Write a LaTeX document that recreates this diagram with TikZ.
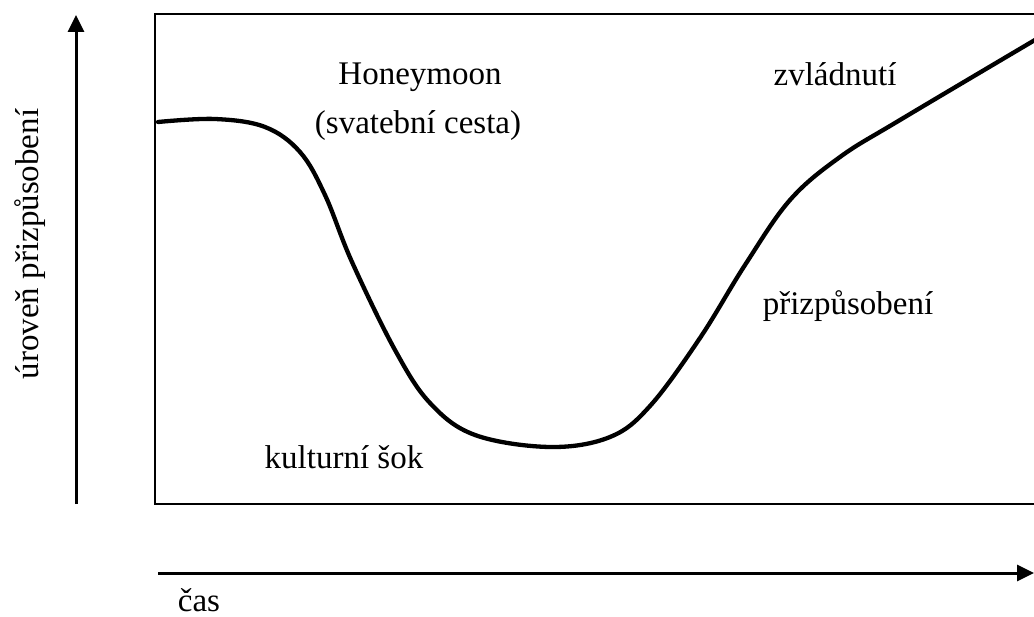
\documentclass[tikz,border=0pt]{standalone}
\usepackage{fontspec}
\setmainfont{Liberation Serif}
\usetikzlibrary{arrows.meta}
\begin{document}
\begin{tikzpicture}[x=1pt,y=-1pt,
  lbl/.style={font=\fontsize{33}{36}\selectfont, inner sep=0pt, anchor=base},
  axis/.style={line width=3pt, -{Triangle[width=16pt,length=17pt]}},
  frame/.style={line width=2.6pt},
  curveline/.style={line width=4.3pt, line cap=round}]
\useasboundingbox (0,0) rectangle (1034,617);
\begin{scope}
\clip (0,0) rectangle (1034,617);
\draw[frame] (155,14) rectangle (1045,504);
\draw[curveline] plot[smooth, tension=0.6] coordinates {
 (158,122) (215,119) (265,127) (300,152) (325,195) (352,262)
 (395,350) (430,403) (475,435) (550,447) (610,437) (650,406)
 (700,338) (745,265) (790,200) (840,157) (900,120) (1040,37)};
\coordinate (ybot) at (76,504);
\coordinate (ytop) at (76,15);
\coordinate (xl) at (158,573);
\coordinate (xr) at (1034,573);
\draw[axis] (ybot) -- (ytop);
\draw[axis] (xl) -- (xr);
\end{scope}
\node[lbl] (honey) at (420,85) {Honeymoon};
\node[lbl] (svat) at (418,134) {(svatební cesta)};
\node[lbl] (sok) at (344,468) {kulturní šok};
\node[lbl] (zvl) at (835,86) {zvládnutí};
\node[lbl] (pri) at (848,315) {přizpůsobení};
\node[lbl, rotate=90] (uro) at (38,244) {úroveň přizpůsobení};
\node[lbl] (cas) at (199,611) {čas};
\end{tikzpicture}
\end{document}
